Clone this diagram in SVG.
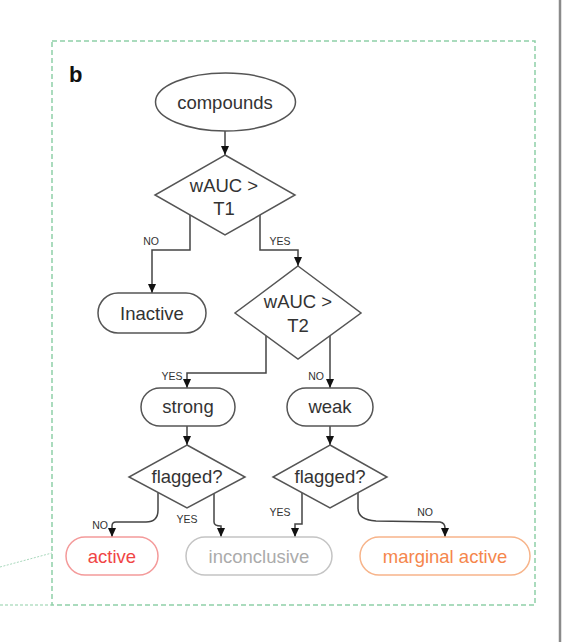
<svg xmlns="http://www.w3.org/2000/svg" width="565" height="642" viewBox="0 0 565 642">
<defs>
<marker id="arr" markerWidth="9" markerHeight="8" refX="9" refY="4" orient="auto" markerUnits="userSpaceOnUse" viewBox="0 0 9 8">
<path d="M0,0 L9,4 L0,8 Z" fill="#111"/>
</marker>
<style>
.t{font-family:"Liberation Sans",Arial,sans-serif;font-size:18.5px;fill:#333;text-anchor:middle}
.lb{font-family:"Liberation Sans",Arial,sans-serif;font-size:10.5px;fill:#333;text-anchor:middle}
.n{fill:#fff;stroke:#555;stroke-width:1.5}
.c{fill:none;stroke:#444;stroke-width:1.5}
</style>
</defs>
<rect width="565" height="642" fill="#fff"/>
<line x1="560" y1="0" x2="560" y2="642" stroke="#8a8a8a" stroke-width="2.5"/>
<g id="frame">
<rect x="52" y="41" width="483" height="564" fill="none" stroke="#8fcfa8" stroke-width="1.5" stroke-dasharray="5,3"/>
<line x1="0" y1="605" x2="52" y2="605" stroke="#8fcfa8" stroke-width="1.2" stroke-dasharray="3,2"/>
<line x1="0" y1="567" x2="52" y2="553" stroke="#a8d8bc" stroke-width="1" stroke-dasharray="2,1.5"/>
<text x="69" y="82" style="font-family:'Liberation Sans',Arial,sans-serif;font-size:22px;font-weight:bold;fill:#111">b</text>
</g>
<g id="connectors">
<path class="c" d="M225,131 V155" marker-end="url(#arr)"/>
<path class="c" d="M190,215 V250 H152 V293" marker-end="url(#arr)"/>
<path class="c" d="M260,215 V250 H298 V266" marker-end="url(#arr)"/>
<path class="c" d="M266,336 V373 H187 V388" marker-end="url(#arr)"/>
<path class="c" d="M330,336 V388" marker-end="url(#arr)"/>
<path class="c" d="M187,426 V445" marker-end="url(#arr)"/>
<path class="c" d="M330,426 V445" marker-end="url(#arr)"/>
<path class="c" d="M158,493 V510 Q158,522 146,522 L116,522 Q112,522 112,526 V537" marker-end="url(#arr)"/>
<path class="c" d="M214,494 V522 Q214,526 221,526 V537" marker-end="url(#arr)"/>
<path class="c" d="M302,493 V524 H295 V537" marker-end="url(#arr)"/>
<path class="c" d="M358,493 V508 Q358,520 376,521 L440,522 Q445,523 445,528 V537" marker-end="url(#arr)"/>
<text class="lb" x="151" y="245">NO</text>
<text class="lb" x="280" y="245">YES</text>
<text class="lb" x="172" y="380">YES</text>
<text class="lb" x="316" y="380">NO</text>
<text class="lb" x="100" y="529">NO</text>
<text class="lb" x="187" y="523">YES</text>
<text class="lb" x="280" y="516">YES</text>
<text class="lb" x="425" y="516">NO</text>
</g>
<g id="compounds">
<ellipse class="n" cx="225.5" cy="102" rx="70" ry="29"/>
<text class="t" x="225" y="109">compounds</text>
</g>
<g id="d1">
<polygon class="n" points="225,155 295,195 225,235 155,195"/>
<text class="t" x="224" y="192">wAUC &gt;</text>
<text class="t" x="224" y="215">T1</text>
</g>
<g id="inactive">
<rect class="n" x="98" y="293" width="108" height="40" rx="20"/>
<text class="t" x="152" y="320">Inactive</text>
</g>
<g id="d2">
<polygon class="n" points="298,266 361,313 298,359 235,313"/>
<text class="t" x="298" y="308">wAUC &gt;</text>
<text class="t" x="298" y="332">T2</text>
</g>
<g id="strong">
<rect class="n" x="141" y="388" width="94" height="38" rx="19"/>
<text class="t" x="188" y="413">strong</text>
</g>
<g id="weak">
<rect class="n" x="287" y="388" width="86" height="38" rx="19"/>
<text class="t" x="330" y="413">weak</text>
</g>
<g id="d3">
<polygon class="n" points="187,445 245,477 187,508 129,477"/>
<text class="t" x="187" y="483">flagged?</text>
</g>
<g id="d4">
<polygon class="n" points="330,445 387,477 330,508 273,477"/>
<text class="t" x="330" y="483">flagged?</text>
</g>
<g id="active">
<rect x="66" y="537" width="92" height="38" rx="19" fill="#fff" stroke="#f49a9a" stroke-width="1.5"/>
<text class="t" x="112" y="563" style="fill:#f04545">active</text>
</g>
<g id="inconclusive">
<rect x="186" y="537" width="146" height="38" rx="19" fill="#fff" stroke="#c4c4c4" stroke-width="1.5"/>
<text class="t" x="259" y="563" style="fill:#ababab">inconclusive</text>
</g>
<g id="marginal">
<rect x="360" y="537" width="170" height="38" rx="19" fill="#fff" stroke="#f7b48a" stroke-width="1.5"/>
<text class="t" x="445" y="563" style="fill:#f5864c">marginal active</text>
</g>
</svg>
